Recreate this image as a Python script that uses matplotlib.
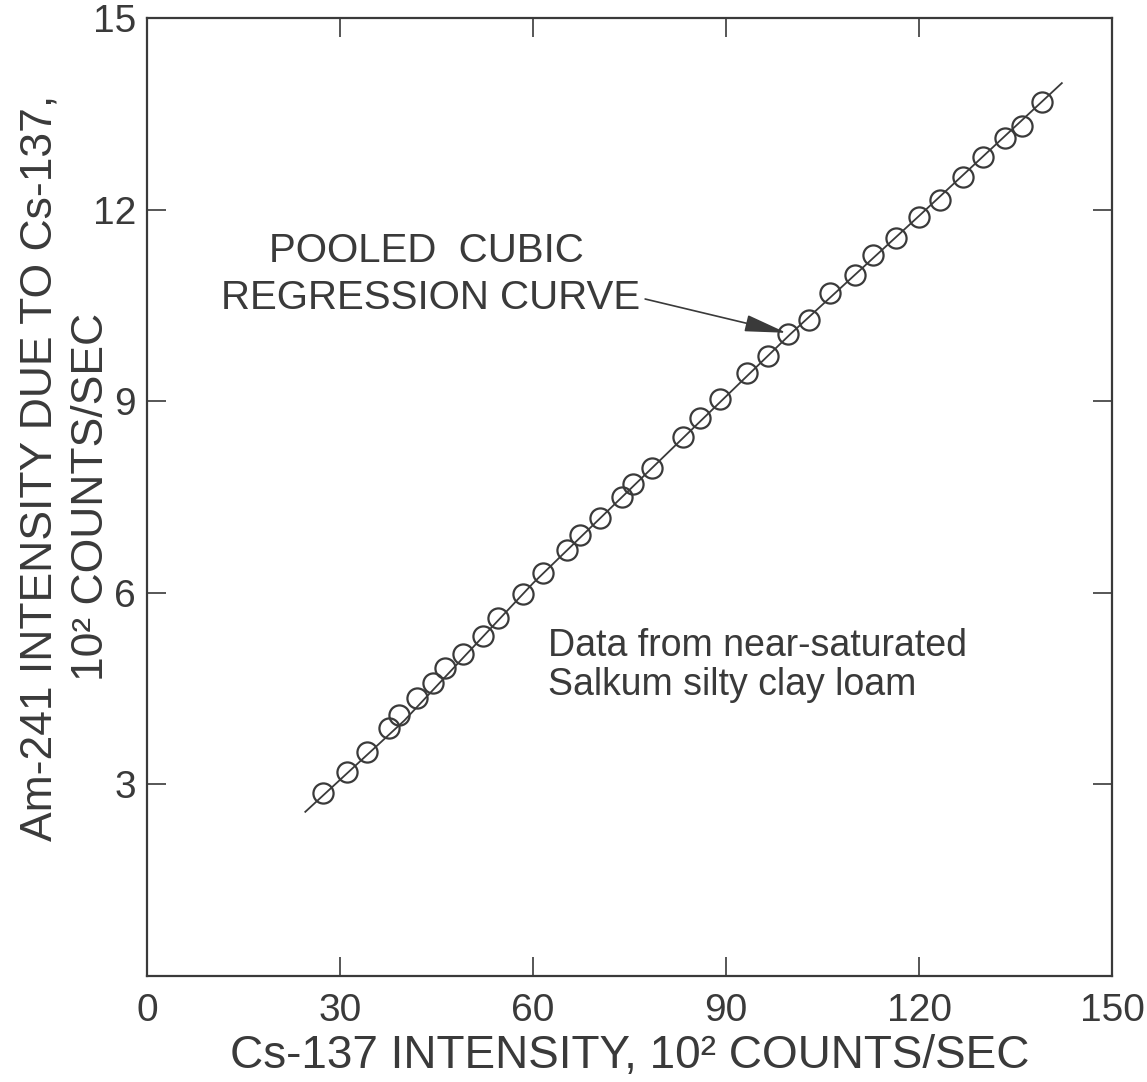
import matplotlib.pyplot as plt

# Cs-137 intensity vs Am-241 intensity due to Cs-137 (10^2 counts/sec)
cs137 = [27.4, 31.1, 34.2, 37.6, 39.2, 42.0, 44.5, 46.3, 49.1, 52.2, 54.6, 58.5,
         61.6, 65.3, 67.3, 70.4, 73.8, 75.6, 78.5, 83.3, 86.0, 89.1, 93.3, 96.5,
         99.6, 102.9, 106.2, 110.1, 112.9, 116.4, 120.0, 123.3, 126.8, 130.0,
         133.4, 136.0, 139.1]
am241 = [2.87, 3.19, 3.51, 3.88, 4.09, 4.35, 4.59, 4.82, 5.04, 5.32, 5.61, 5.98,
         6.31, 6.67, 6.91, 7.17, 7.50, 7.70, 7.95, 8.44, 8.74, 9.03, 9.44, 9.71,
         10.05, 10.27, 10.69, 10.98, 11.29, 11.55, 11.88, 12.15, 12.51, 12.82,
         13.12, 13.31, 13.68]

# pooled cubic regression curve
curve_x = [24.6, 40, 60, 80, 100, 120, 142.2]
curve_y = [2.57, 4.0, 6.15, 8.1, 10.05, 11.9, 13.98]

xticks = [0, 30, 60, 90, 120, 150]
yticks = [3, 6, 9, 12, 15]

ink = '#3a3a3a'
plt.rcParams['font.family'] = ['Liberation Sans', 'DejaVu Sans']

fig = plt.figure(figsize=(11.47, 10.82), dpi=100)
ax = fig.add_axes([0.1282, 0.098, 0.8413, 0.8854])

ax.plot(curve_x, curve_y, color=ink, lw=1.3)
ax.plot(cs137, am241, 'o', ms=14.5, mfc='none', mec=ink, mew=1.6)

ax.set_xlim(0, 150)
ax.set_ylim(0, 15)
ax.set_xticks(xticks)
ax.set_yticks(yticks)
ax.tick_params(direction='in', length=14, width=1.2, color=ink,
               top=True, right=True, labelsize=28, labelcolor=ink)
ax.tick_params(axis='x', pad=12)
ax.tick_params(axis='y', pad=8)
for s in ax.spines.values():
    s.set_linewidth(1.6)
    s.set_color(ink)

ax.set_xlabel('Cs-137 INTENSITY, 10² COUNTS/SEC', fontsize=33, color=ink, labelpad=4)
fig.text(0.035, 0.568, 'Am-241 INTENSITY DUE TO Cs-137,', rotation=90,
         fontsize=32, color=ink, ha='center', va='center')
fig.text(0.080, 0.541, '10² COUNTS/SEC', rotation=90,
         fontsize=32, color=ink, ha='center', va='center')

ax.text(43.5, 11.35, 'POOLED  CUBIC', fontsize=29, color=ink, ha='center', va='center')
ax.annotate('REGRESSION CURVE', xy=(99.4, 10.07), xytext=(44.0, 10.62),
            fontsize=29, color=ink, ha='center', va='center',
            arrowprops=dict(arrowstyle='-|>,head_length=0.9,head_width=0.18',
                            color=ink, lw=1.2, shrinkA=2, shrinkB=0,
                            relpos=(1.0, 0.5)))

ax.text(62.3, 5.45, 'Data from near-saturated\nSalkum silty clay loam',
        fontsize=27, color=ink, ha='left', va='top', linespacing=1.1)

plt.savefig('out.png', dpi=100)
